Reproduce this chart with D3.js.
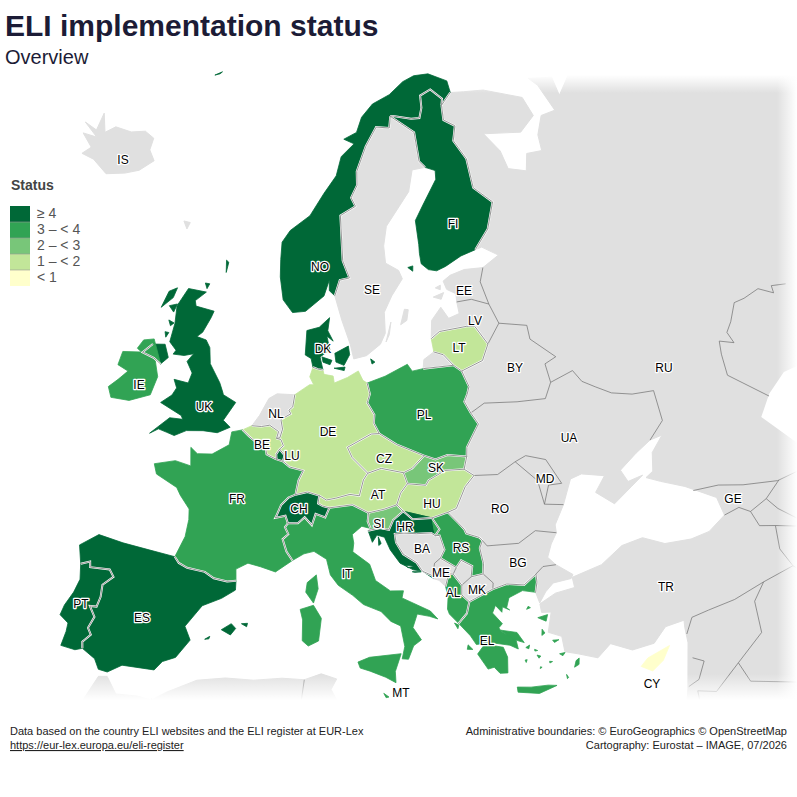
<!DOCTYPE html>
<html>
<head>
<meta charset="utf-8">
<script src="https://cdn.jsdelivr.net/npm/d3@7"></script>
<style>
html, body { margin: 0; padding: 0; background: #fff; }
svg { display: block; font-family: "Liberation Sans", Arial, sans-serif; }
</style>
</head>
<body>
<script>
// status per country
var codes = ["ES","PT","UK","DK","NO","FI","CH","HR","LU","IE","FR","IT","PL","RS","EL","AL","MT","SK","SI","DE","BE","CZ","AT","HU","LT","CY"];
var statusValues = [4,4,4,4,4,4,4,4,4,3,3,3,3,3,3,3,3,2,2,1,1,1,1,1,1,0];

var legendTitle = "Status";
var legendThresholds = [1,2,3,4];
var legendColors = ["#ffffcc","#c2e699","#78c679","#31a354","#006837"];
var legendLabels = ["\u2265 4","3 \u2013 < 4","2 \u2013 < 3","1 \u2013 < 2","< 1"];

var labelNames = ["IS","NO","SE","FI","EE","LV","LT","BY","RU","DK","IE","UK","NL","DE","PL","UA","BE","LU","CZ","SK","MD","FR","AT","HU","RO","CH","GE","SI","HR","RS","BA","BG","IT","ME","MK","AL","TR","PT","ES","EL","CY","MT"];
var labelX = [123,320,372,453,464,475,459,515,664,323,139,204,276,328,424,569,262,292,384,436,545,237,378,432,500,299,733,379,405,461,422,518,347,441,477,453,666,81,142,487,652,401];
var labelY = [160,267,290,224,291,321,348,368,368,349,385,407,414,432,415,438,445,456,459,468,479,499,495,504,509,509,499,524,527,548,549,563,574,573,590,593,587,604,618,641,684,693];

// shared land borders, lon/lat
var arcs = {
  PT_ES: [[-8.87,41.87],[-8.2,42.13],[-8.1,41.82],[-6.6,41.95],[-6.2,41.58],[-6.9,41.0],[-6.85,40.3],[-7.0,39.7],[-7.5,39.65],[-7.0,39.1],[-7.3,38.4],[-7.0,38.05],[-7.5,37.55],[-7.4,37.18]],
  ES_FR: [[-1.78,43.37],[-1.4,43.05],[-0.7,42.85],[0.7,42.75],[1.45,42.45],[2.5,42.35],[3.18,42.43]],
  FR_BE: [[2.55,51.08],[3.2,50.75],[4.2,50.3],[4.8,50.1],[4.9,49.8],[5.8,49.55]],
  FR_LU: [[5.8,49.55],[6.37,49.46]],
  FR_DE: [[6.37,49.46],[7.0,49.15],[8.2,48.97],[7.8,48.4],[7.58,47.58]],
  FR_CH: [[7.58,47.58],[7.0,47.4],[6.4,46.95],[6.1,46.4],[5.97,46.2],[6.8,46.35],[7.03,45.92]],
  FR_IT: [[7.03,45.92],[6.8,45.7],[7.1,45.3],[6.65,45.0],[7.0,44.3],[7.5,43.8]],
  BE_NL: [[3.37,51.37],[4.25,51.37],[5.0,51.48],[5.85,51.15],[5.7,50.75]],
  BE_DE: [[5.7,50.75],[6.1,50.7],[6.35,50.35],[6.03,50.15]],
  BE_LU: [[6.03,50.15],[5.75,49.85],[5.8,49.55]],
  LU_DE: [[6.03,50.15],[6.5,49.8],[6.37,49.46]],
  NL_DE: [[7.2,53.3],[7.05,52.6],[6.7,52.4],[6.9,52.2],[6.0,51.85],[6.2,51.3],[6.0,50.8],[5.7,50.75]],
  DE_DK: [[8.9,54.9],[9.4,54.8],[9.9,54.75]],
  DE_PL: [[14.2,53.93],[14.4,53.3],[14.1,52.8],[14.7,52.1],[14.6,51.6],[15.03,51.0]],
  DE_CZ: [[15.03,51.0],[14.3,51.0],[12.1,50.3],[12.5,49.7],[13.8,48.77]],
  DE_AT: [[13.8,48.77],[13.4,48.4],[13.0,47.5],[12.2,47.6],[11.0,47.4],[10.2,47.3],[9.6,47.55]],
  DE_CH: [[9.6,47.55],[8.6,47.75],[7.58,47.58]],
  CH_AT: [[9.6,47.55],[9.5,47.1],[9.9,46.95],[10.45,46.85]],
  CH_IT: [[10.45,46.85],[10.1,46.3],[9.3,46.5],[9.0,45.85],[8.4,46.3],[7.85,45.95],[7.03,45.92]],
  AT_CZ: [[13.8,48.77],[15.0,49.0],[16.9,48.65]],
  AT_SK: [[16.9,48.65],[17.15,48.0]],
  AT_HU: [[17.15,48.0],[16.5,47.5],[16.1,46.85]],
  AT_SI: [[16.1,46.85],[15.0,46.65],[13.7,46.5]],
  AT_IT: [[13.7,46.5],[12.4,47.0],[10.45,46.85]],
  CZ_PL: [[15.03,51.0],[16.5,50.3],[18.85,49.5]],
  CZ_SK: [[18.85,49.5],[17.7,48.85],[16.9,48.65]],
  PL_KA: [[19.8,54.44],[22.8,54.36]],
  PL_LT: [[22.8,54.36],[23.5,53.95]],
  PL_BY: [[23.5,53.95],[23.9,53.0],[23.6,52.6],[23.2,52.2],[23.6,51.5]],
  PL_UA: [[23.6,51.5],[24.1,50.8],[22.7,49.6],[22.55,49.09]],
  PL_SK: [[22.55,49.09],[20.9,49.35],[19.8,49.2],[18.85,49.5]],
  SK_UA: [[22.55,49.09],[22.15,48.4]],
  SK_HU: [[22.15,48.4],[20.5,48.5],[19.0,48.07],[18.7,47.8],[17.15,48.0]],
  HU_UA: [[22.15,48.4],[22.9,47.95]],
  HU_RO: [[22.9,47.95],[22.0,47.4],[21.0,46.25],[20.25,46.1]],
  HU_RS: [[20.25,46.1],[18.9,45.9]],
  HU_HR: [[18.9,45.9],[17.3,45.95],[16.6,46.45]],
  HU_SI: [[16.6,46.45],[16.1,46.85]],
  SI_HR: [[16.6,46.45],[15.7,46.0],[15.3,45.45],[14.6,45.6],[13.6,45.48]],
  SI_IT: [[13.8,45.6],[13.6,46.0],[13.7,46.5]],
  BA_HR: [[18.45,42.6],[17.7,42.92],[17.6,43.05],[17.3,43.45],[16.3,44.0],[15.8,44.7],[15.75,45.2],[16.5,45.2],[17.5,45.1],[18.7,45.05],[19.0,44.87]],
  HR_RS: [[19.0,44.87],[19.4,45.2],[18.9,45.9]],
  HR_ME: [[18.5,42.43],[18.45,42.6]],
  BA_RS: [[19.0,44.87],[19.35,44.85],[19.6,44.0],[19.2,43.55]],
  BA_ME: [[19.2,43.55],[18.7,43.3],[18.45,42.6]],
  ME_RS: [[19.2,43.55],[20.35,42.9]],
  ME_XK: [[20.35,42.9],[20.05,42.55]],
  ME_AL: [[20.05,42.55],[19.7,42.6],[19.35,41.9]],
  XK_RS: [[20.35,42.9],[20.8,43.27],[21.6,42.85],[21.4,42.25]],
  XK_MK: [[21.4,42.25],[20.6,41.85]],
  XK_AL: [[20.6,41.85],[20.05,42.55]],
  RS_RO: [[20.25,46.1],[21.0,45.4],[21.4,45.0],[21.5,44.75],[22.5,44.4],[22.7,44.2]],
  RS_BG: [[22.7,44.2],[22.4,43.8],[22.5,42.9],[22.35,42.3]],
  RS_MK: [[22.35,42.3],[21.4,42.25]],
  MK_BG: [[22.35,42.3],[23.0,41.7],[22.9,41.35]],
  MK_EL: [[22.9,41.35],[21.0,40.85]],
  MK_AL: [[21.0,40.85],[20.5,41.3],[20.6,41.85]],
  AL_EL: [[20.0,39.7],[20.7,40.2],[21.0,40.85]],
  EL_BG: [[22.9,41.35],[24.0,41.5],[25.3,41.25],[26.35,41.72]],
  EL_TR: [[26.35,41.72],[26.3,41.25],[26.05,40.7]],
  BG_RO: [[22.7,44.2],[23.0,43.85],[25.5,43.65],[27.0,44.15],[28.6,43.75]],
  BG_TR: [[28.0,41.98],[27.0,42.05],[26.35,41.72]],
  RO_UA: [[22.9,47.95],[24.9,47.75],[26.6,48.25]],
  RO_MD: [[26.6,48.25],[28.1,46.9],[28.2,45.5]],
  RO_UB: [[28.2,45.5],[29.7,45.2]],
  MD_UA: [[26.6,48.25],[27.6,48.45],[29.2,47.95],[30.0,46.4],[28.9,46.5],[28.2,45.5]],
  UA_BY: [[23.6,51.5],[25.0,51.9],[28.0,51.55],[30.6,51.3],[31.5,52.1]],
  UA_RU: [[31.5,52.1],[33.8,52.35],[34.3,51.6],[35.3,51.05],[36.5,50.4],[38.2,49.9],[40.1,49.6],[39.8,47.85],[38.2,47.1]],
  BY_LT: [[23.5,53.95],[25.7,54.3],[26.6,55.15]],
  BY_LV: [[26.6,55.15],[28.2,56.15]],
  BY_RU: [[28.2,56.15],[30.9,55.6],[30.8,54.8],[32.7,53.4],[31.5,53.2],[31.5,52.1]],
  LT_LV: [[26.6,55.15],[25.7,56.3],[24.9,56.4],[22.0,56.4],[21.05,56.07]],
  LT_KA: [[21.1,55.3],[22.0,55.05],[22.8,54.36]],
  LV_RU: [[28.2,56.15],[27.7,57.35]],
  LV_EE: [[27.7,57.35],[26.0,57.85],[24.4,57.88]],
  EE_RU: [[27.7,57.35],[27.4,58.7],[28.1,59.45]],
  RU_FI: [[27.8,60.55],[29.9,61.5],[31.5,62.9],[29.7,64.0],[30.0,65.7],[29.0,66.9],[29.9,67.7],[28.5,68.2],[28.9,69.05]],
  RU_NO: [[28.9,69.05],[30.9,69.6]],
  FI_NO: [[20.55,69.06],[21.0,69.05],[23.7,68.7],[25.0,68.65],[25.7,69.2],[26.0,69.9],[27.9,70.1],[29.3,69.4],[28.9,69.05]],
  FI_SE: [[24.15,65.8],[23.5,66.2],[23.7,67.9],[20.55,69.06]],
  SE_NO: [[20.55,69.06],[20.1,68.4],[18.1,68.55],[16.2,67.5],[14.6,66.1],[14.5,65.3],[13.6,64.6],[14.1,64.1],[12.1,63.6],[12.2,61.0],[12.9,60.0],[11.8,59.9],[11.2,59.0]],
  IE_UK: [[-6.1,54.05],[-6.9,54.3],[-8.1,54.45],[-7.3,55.05]]
};

// thin borders inside the grey land to the east and south
var extraBorders = [
  [[55.4,51],[54.2,51.4],[54,51],[53,51.7],[51.4,51.7],[50.4,51.8],[49.2,51],[48.4,50.6],[48.5,49.9],[47.4,50.4],[47,49.7],[46.6,48.5],[48.9,46.3]],
  [[40,43.5],[42,43.2],[43.8,42.6],[46.4,41.9],[48.5,41.8]],
  [[41.55,41.5],[42.8,41.55],[43.5,41.05],[45,41.3],[46.5,41.9]],
  [[43.5,41.05],[43.7,40.1],[44.8,39.7],[44.4,38.4],[44.8,37.2],[42.4,37.1],[40,36.85],[38,36.85],[36.7,36.8],[36.0,36.0]],
  [[45,41.3],[45.5,40.5],[46.5,39.5]],
  [[44.8,39.7],[46.5,39.0],[48,39.6]],
  [[42.4,37.1],[41.3,36.3],[41.0,34.5],[38.8,33.4],[36.8,32.3],[35.6,32.7],[35.5,31.5]],
  [[38.8,33.4],[39.2,32.15],[42,31.1],[44.7,29.2]],
  [[44.8,37.2],[46,35.8],[46,33]],
  [[35.9,34.6],[36.6,34.2],[35.9,33.3],[35.1,33.1]],
  [[-2,35.1],[-1.7,33.5],[-1,32.5]],
  [[8.6,36.95],[8.3,35.0],[7.5,33.5]],
  [[11.5,33.2],[10,30]]
];

function rev(a){ return a.slice().reverse(); }
function ring(){ return [].concat.apply([], arguments); }
var a = arcs;

var countries = {
  PT: [ring(a.PT_ES,[[-7.9,37.0],[-8.95,37.05],[-8.8,37.9],[-8.8,38.4],[-9.5,38.75],[-9.35,39.35],[-8.9,40.2],[-8.65,41.0]])],
  ES: [ring([[-8.87,41.87],[-9.3,42.9],[-8.0,43.75],[-6.0,43.6],[-3.8,43.5]],a.ES_FR,[[3.2,41.9],[2.2,41.35],[0.8,40.8],[-0.3,39.5],[0.2,38.75],[-0.7,37.65],[-1.6,37.3],[-2.1,36.75],[-4.4,36.7],[-5.35,36.15],[-6.0,36.2],[-6.4,36.75]],rev(a.PT_ES)),
    [[2.4,39.55],[3.1,39.95],[3.45,39.7],[3.1,39.3]],[[3.85,40.0],[4.3,40.05],[4.25,39.85]],[[1.25,38.9],[1.6,39.1],[1.55,38.95]]],
  FR: [ring(rev(a.ES_FR),[[-1.2,44.6],[-1.1,45.6],[-1.2,46.2],[-2.1,46.9],[-2.5,47.3],[-4.4,47.85],[-4.75,48.4],[-3.0,48.8],[-1.6,48.65],[-1.85,49.7],[-1.2,49.4],[0.1,49.5],[1.5,50.15],[1.6,50.9]],a.FR_BE,a.FR_LU,a.FR_DE,a.FR_CH,a.FR_IT,[[6.2,43.1],[5.0,43.35],[4.0,43.5],[3.1,43.1]]),
    [[9.4,43.0],[9.55,42.2],[9.2,41.38],[8.6,42.0],[8.7,42.55]]],
  BE: [ring([[2.55,51.08]],a.BE_NL,a.BE_DE,a.BE_LU,rev(a.FR_BE))],
  LU: [ring(rev(a.BE_LU),a.LU_DE,rev(a.FR_LU))],
  NL: [ring([[3.37,51.37],[4.0,52.0],[4.75,53.0],[5.5,53.3]],a.NL_DE,rev(a.BE_NL))],
  DE: [ring([[7.2,53.3],[8.0,53.65],[8.6,53.9],[9.0,53.9],[8.6,54.35]],a.DE_DK,[[10.0,54.5],[10.9,54.4],[11.0,54.0],[12.3,54.3],[13.4,54.65],[13.8,54.1]],a.DE_PL,a.DE_CZ,a.DE_AT,a.DE_CH,rev(a.FR_DE),rev(a.LU_DE),rev(a.BE_DE),rev(a.NL_DE))],
  CH: [ring(rev(a.FR_CH),rev(a.DE_CH),a.CH_AT,a.CH_IT)],
  AT: [ring(rev(a.DE_AT),a.AT_CZ,a.AT_SK,a.AT_HU,a.AT_SI,a.AT_IT,rev(a.CH_AT))],
  CZ: [ring(rev(a.DE_CZ),a.CZ_PL,a.CZ_SK,rev(a.AT_CZ))],
  PL: [ring([[14.2,53.93],[16.0,54.25],[18.3,54.8],[18.7,54.38]],a.PL_KA,a.PL_LT,a.PL_BY,a.PL_UA,a.PL_SK,rev(a.CZ_PL),rev(a.DE_PL))],
  SK: [ring(rev(a.CZ_SK),rev(a.PL_SK),a.SK_UA,a.SK_HU,rev(a.AT_SK))],
  HU: [ring(rev(a.SK_HU),a.HU_UA,a.HU_RO,a.HU_RS,a.HU_HR,a.HU_SI,rev(a.AT_HU))],
  SI: [ring(rev(a.AT_SI),rev(a.HU_SI),a.SI_HR,a.SI_IT)],
  IT: [ring(rev(a.FR_IT),rev(a.CH_IT),rev(a.AT_IT),rev(a.SI_IT),[[13.1,45.75],[12.3,45.3],[12.4,44.8],[12.3,44.3],[13.6,43.55],[14.0,42.6],[15.1,41.95],[16.1,41.9],[15.95,41.5],[18.0,40.6],[18.5,40.1],[17.9,40.3],[17.0,40.5],[16.6,39.75],[17.15,39.0],[16.55,38.7],[16.1,37.95],[15.65,38.0],[15.9,38.7],[15.7,39.9],[15.0,40.2],[14.3,40.8],[13.0,41.25],[12.2,41.8],[11.1,42.4],[10.5,43.0],[10.2,43.9],[9.2,44.35],[8.4,44.2]]),
    [[12.45,37.95],[13.3,38.2],[15.6,38.3],[15.1,37.3],[15.1,36.65],[14.4,37.0],[13.3,37.4],[12.6,37.6]],
    [[8.2,41.0],[9.2,41.25],[9.8,40.5],[9.6,39.2],[8.85,38.9],[8.4,39.2],[8.4,40.4]]],
  MT: [[[14.2,36.08],[14.55,35.85],[14.35,35.82]]],
  HR: [ring([[13.6,45.48],[13.9,44.8],[14.3,45.2],[14.9,45.05],[15.3,44.3],[16.0,43.5],[17.0,43.05],[17.7,42.92]],[[18.5,42.43]],a.HR_ME,a.BA_HR,a.HR_RS,rev(a.HU_HR),a.SI_HR),
    [[14.4,45.1],[14.6,44.7],[14.4,44.6]],[[16.4,43.35],[17.1,43.25],[16.6,43.2]],[[16.9,42.95],[17.6,42.9],[17.1,42.9]]],
  BA: [ring(a.BA_HR,a.BA_RS,a.BA_ME)],
  ME: [ring(rev(a.BA_ME),a.ME_RS,a.ME_XK,a.ME_AL,[[18.9,42.3]],a.HR_ME)],
  XK: [ring(rev(a.ME_XK),a.XK_RS,a.XK_MK,a.XK_AL)],
  RS: [ring(rev(a.HU_RS),a.RS_RO,a.RS_BG,a.RS_MK,rev(a.XK_RS),rev(a.ME_RS),rev(a.BA_RS),rev(a.HR_RS))],
  MK: [ring(rev(a.XK_MK),rev(a.RS_MK),a.MK_BG,a.MK_EL,a.MK_AL)],
  AL: [ring([[19.35,41.9],[19.45,41.3],[19.3,40.6],[19.4,40.3]],a.AL_EL,a.MK_AL,a.XK_AL,a.ME_AL)],
  EL: [ring(a.AL_EL,rev(a.MK_EL),a.EL_BG,a.EL_TR,[[25.1,40.95],[24.0,40.7],[23.7,40.15],[23.9,40.0],[23.4,40.25],[23.3,39.95],[22.9,40.4],[22.6,40.0],[23.2,39.3],[22.9,39.1],[23.0,38.9],[24.0,38.2],[24.05,37.7],[23.5,38.0],[22.5,38.25],[21.7,38.35],[21.1,38.35],[20.75,38.9]]),
    [[21.7,38.3],[23.0,37.95],[23.2,37.35],[23.05,36.45],[22.5,36.5],[22.15,36.9],[21.7,36.85],[21.1,37.8]],
    [[23.0,38.95],[24.15,38.65],[24.55,38.0],[23.8,38.3]],
    [[23.55,35.55],[24.5,35.4],[25.7,35.32],[26.3,35.2],[25.0,34.95],[23.55,35.25]],
    [[28.2,36.45],[27.95,36.35],[27.75,36.0],[28.1,36.1]],
    [[25.85,39.25],[26.6,39.3],[26.4,38.95]],[[26.0,38.55],[26.15,38.3],[25.9,38.2]],[[26.6,37.8],[27.05,37.75],[26.7,37.65]],[[19.7,39.75],[20.0,39.6],[19.9,39.4]],[[20.5,38.4],[20.8,38.1],[20.4,38.15]],
    [[25.3,40.0],[25.45,39.9],[25.15,39.85]],[[24.6,37.7],[24.9,37.8],[24.8,37.6]],[[25.3,37.15],[25.55,37.05],[25.4,36.95]],[[25.2,37.5],[25.4,37.4],[25.2,37.4]],[[24.4,37.0],[24.55,37.0],[24.45,36.85]],[[26.9,36.95],[27.3,36.95],[27.1,36.8]],[[27.1,35.7],[27.2,35.5],[27.1,35.45]],[[25.4,36.45],[25.5,36.4],[25.35,36.35]],[[26.1,36.65],[26.3,36.6],[26.1,36.55]]],
  BG: [ring(rev(a.RS_BG),a.BG_RO,[[28.0,43.2],[27.5,42.5]],a.BG_TR,rev(a.EL_BG),rev(a.MK_BG))],
  RO: [ring(rev(a.HU_RO),a.RO_UA,a.RO_MD,a.RO_UB,[[28.65,44.2]],rev(a.BG_RO),rev(a.RS_RO))],
  MD: [ring(rev(a.RO_MD),a.MD_UA)],
  UA: [ring(rev(a.SK_UA),rev(a.PL_UA),a.UA_BY,a.UA_RU,[[36.7,46.7],[35.0,46.1],[35.3,45.35],[36.6,45.4],[35.4,45.0],[33.7,44.4],[32.5,45.35],[33.6,46.1],[31.8,46.6],[30.8,46.5]],rev(a.RO_UB),rev(a.MD_UA),rev(a.RO_UA),rev(a.HU_UA))],
  BY: [ring(a.BY_LT,a.BY_LV,a.BY_RU,rev(a.UA_BY),rev(a.PL_BY))],
  LT: [ring(a.PL_LT,a.BY_LT,a.LT_LV,a.LT_KA)],
  KA: [ring(a.PL_KA,rev(a.LT_KA),[[20.0,54.95]])],
  LV: [ring(rev(a.LT_LV),a.BY_LV,a.LV_RU,a.LV_EE,[[24.4,57.2],[23.2,57.05],[22.6,57.75],[21.4,57.1]])],
  EE: [ring(rev(a.LV_EE),a.EE_RU,[[26.0,59.6],[24.3,59.45],[23.4,59.2],[23.6,58.7],[24.5,58.35]]),
    [[22.0,58.4],[23.2,58.55],[22.8,58.2]],[[22.4,58.9],[23.0,59.0],[22.9,58.75]]],
  RU: [ring([[28.1,59.45],[30.2,59.9],[28.6,60.6]],a.RU_FI,a.RU_NO,[[33.0,69.4],[36.0,69.1],[41.0,67.8],[41.2,66.6],[38.5,66.05],[33.5,66.75],[34.8,65.5],[34.9,64.4],[37.0,63.9],[38.0,64.8],[40.0,64.6],[40.5,65.5],[42.2,66.4],[44.3,66.3],[44.0,68.0],[43.3,68.6],[46.5,68.0],[46,66.9],[53,68.5],[60,69],[70,73],[90,76],[100,40],[70,15],[32,20],[32,31],[34.3,31.3],[35.0,33.0],[35.9,35.5],[36.0,36.4],[36.1,36.8],[34.7,36.8],[33.6,36.1],[32.0,36.1],[30.6,36.8],[29.5,36.2],[28.2,36.7],[27.3,37.0],[27.3,37.9],[26.4,38.3],[26.9,39.4],[26.2,39.5],[26.2,40.0],[27.5,40.4],[29.0,40.45],[29.0,41.05],[31.4,41.3],[33.3,42.0],[35.0,42.05],[36.5,41.3],[38.5,41.0],[40.0,41.0],[41.55,41.5],[41.5,42.6],[39.5,43.9],[37.8,44.7],[36.8,45.2],[37.5,45.4],[38.0,46.4],[39.3,47.1]],rev(a.UA_RU),rev(a.BY_RU),a.LV_RU,a.EE_RU)],
  TR: [ring(a.BG_TR,a.EL_TR,[[26.2,40.05],[26.8,40.6],[27.5,41.0],[28.9,41.0],[29.1,41.2]])],
  NF: [[[-5.9,35.8],[-5.3,35.9],[-4.5,35.0],[-3.0,35.1],[-2.0,35.0],[-1.0,35.6],[1.0,36.5],[3.0,36.8],[5.0,36.8],[7.0,37.0],[8.6,36.95],[9.8,37.3],[10.9,37.0],[10.5,36.4],[11.0,35.6],[10.1,34.3],[11.0,33.2],[15.0,32.4],[19.0,30.3],[20.0,32.0],[23,32.6],[25,31.6],[32,31],[32,20],[-10,20],[-10,30],[-6.8,34.0]]],
  NO: [ring([[10.6,59.3],[10.6,59.9],[10.0,59.0],[8.0,58.1],[6.6,58.0],[5.5,58.7],[5.0,60.0],[4.9,61.0],[4.9,62.0],[5.8,62.7],[8.2,63.6],[10.0,64.9],[11.7,65.9],[12.5,67.0],[14.5,67.7],[13.0,68.0],[15.0,68.35],[16.0,69.2],[18.0,69.9],[21.0,70.3],[23.7,70.9],[25.8,71.1],[28.3,71.0],[31.0,70.3],[30.9,69.6]],rev(a.RU_NO),rev(a.FI_NO),a.SE_NO),
    [[-9.1,70.85],[-8.0,71.15],[-8.3,71.0]]],
  SE: [ring(rev(a.SE_NO),rev(a.FI_SE),[[22.3,65.8],[21.3,64.6],[17.8,62.8],[17.2,61.7],[17.2,60.7],[18.6,60.2],[18.9,59.7],[17.5,58.8],[16.5,57.9],[16.4,56.7],[15.8,56.1],[14.3,55.5],[13.0,55.35],[12.7,56.2],[11.9,57.6]]),
    [[18.1,57.1],[18.7,57.95],[19.1,57.9],[18.8,57.3]],[[16.4,56.2],[17.1,57.3],[16.8,56.6]]],
  FI: [ring(rev(a.FI_NO),rev(a.RU_FI),[[26.0,60.4],[24.0,60.0],[22.9,59.85],[22.0,60.0],[21.3,60.4],[21.3,61.0],[21.4,61.5],[21.5,62.9],[22.8,63.7],[25.2,65.0],[25.4,65.5]],a.FI_SE),
    [[19.7,60.3],[20.3,60.35],[20.2,60.05]]],
  DK: [ring(a.DE_DK,[[9.6,55.5],[10.6,55.9],[10.3,56.7],[10.95,56.4],[10.4,57.0],[10.6,57.75],[9.5,57.2],[8.2,57.0],[8.1,55.6],[8.7,55.4]]),
    [[11.1,55.7],[12.5,56.1],[12.6,55.6],[12.0,55.0],[11.2,55.2]],[[9.8,55.5],[10.8,55.3],[10.6,55.05],[9.9,55.2]],[[11.0,54.85],[12.0,54.7],[12.1,54.9]],[[14.7,55.3],[15.1,55.1],[14.8,55.0]]],
  UK: [[[-5.7,50.05],[-5.0,50.4],[-4.2,50.3],[-3.5,50.2],[-2.5,50.6],[-1.0,50.75],[0.3,50.75],[1.4,51.15],[0.7,51.5],[1.65,52.6],[0.4,52.95],[0.3,53.1],[-0.1,53.6],[-1.3,54.6],[-1.6,55.5],[-2.1,55.9],[-3.1,56.0],[-2.6,56.3],[-2.0,57.2],[-1.8,57.6],[-3.8,57.7],[-4.0,58.0],[-3.0,58.6],[-5.0,58.6],[-5.8,57.5],[-5.6,56.5],[-5.7,55.4],[-4.9,55.0],[-5.1,54.75],[-4.0,54.8],[-3.1,55.0],[-3.6,54.5],[-2.9,53.9],[-3.1,53.3],[-4.5,53.35],[-4.1,52.9],[-4.4,52.45],[-5.3,51.9],[-3.2,51.4],[-3.0,51.2],[-4.2,51.15]],
    ring(a.IE_UK,[[-6.1,55.2],[-5.5,54.5]]),
    [[-7.0,58.2],[-6.2,58.5],[-6.4,57.9],[-7.4,57.2]],[[-6.6,57.4],[-5.8,57.6],[-6.0,57.1]],[[-6.3,56.6],[-5.7,56.5],[-6.0,56.3]],[[-6.4,55.9],[-6.0,55.9],[-6.2,55.6]],[[-3.3,59.1],[-2.8,59.1],[-3.0,58.8]],[[-1.4,60.6],[-1.1,60.5],[-1.2,59.9]]],
  IE: [ring(rev(a.IE_UK),[[-7.3,55.35],[-8.3,55.15],[-8.7,54.6],[-8.2,54.45],[-10.0,54.2],[-10.1,53.4],[-9.0,53.2],[-9.7,52.6],[-10.4,52.05],[-9.9,51.5],[-8.2,51.6],[-6.4,52.2],[-6.1,53.3]])],
  IS: [[[-24.4,65.5],[-22.5,65.4],[-22.7,66.45],[-21.3,65.5],[-20.3,66.05],[-18.0,66.15],[-16.2,66.5],[-14.7,66.3],[-14.6,65.6],[-13.5,65.1],[-14.9,64.3],[-16.5,63.85],[-18.7,63.4],[-21.0,63.85],[-22.7,63.85],[-22.0,64.4],[-23.9,64.9],[-22.0,65.05]]],
  FO: [[[-7.4,62.3],[-6.6,62.3],[-6.8,61.9]]],
  CY: [[[32.3,35.05],[32.9,35.4],[34.6,35.7],[33.9,35.0],[33.0,34.6]]]
};

var caspian = [[47.5,45.5],[49,46.4],[51,47],[53,46.8],[53,45],[50.5,44.5],[51,43.2],[50,40],[49,38],[53,37],[54,42],[47,42]].slice(0,10);

var width = 797, height = 797;

var projection = d3.geoAzimuthalEqualArea()
  .rotate([-10,-52])
  .scale(1000)
  .translate([324,418]);

// plain line through the projection, so ring winding does not matter
var line = d3.line().x(function(d){ return projection(d)[0]; }).y(function(d){ return projection(d)[1]; });
function closed(rings){ return rings.map(function(r){ return line(r) + "Z"; }).join(""); }

var color = d3.scaleThreshold().domain(legendThresholds).range(legendColors);
var statusOf = {};
codes.forEach(function(c,i){ statusOf[c] = statusValues[i]; });

var svg = d3.select("body").append("svg").attr("width",width).attr("height",height);
var defs = svg.append("defs");

function fade(id,x1,y1,x2,y2){
  var g = defs.append("linearGradient").attr("id",id).attr("x1",x1).attr("y1",y1).attr("x2",x2).attr("y2",y2);
  g.append("stop").attr("offset","0%").attr("stop-color","#fff").attr("stop-opacity",0);
  g.append("stop").attr("offset","100%").attr("stop-color","#fff").attr("stop-opacity",1);
}
fade("fadeRight",0,0,1,0);
fade("fadeBottom",0,0,0,1);
fade("fadeTop",0,1,0,0);

var names = Object.keys(countries);
var greyNames = names.filter(function(n){ return statusOf[n] === undefined; });
var colourNames = names.filter(function(n){ return statusOf[n] !== undefined; });

svg.append("g").selectAll("path").data(greyNames).enter().append("path")
  .attr("d",function(n){ return closed(countries[n]); })
  .attr("fill","#e0e0e0").attr("stroke","#e0e0e0").attr("stroke-width",1).attr("stroke-linejoin","round");

svg.append("path").attr("d",line(caspian)+"Z").attr("fill","#fff");

var arcNames = Object.keys(arcs);
svg.append("g").selectAll("path").data(arcNames.map(function(k){ return arcs[k]; }).concat(extraBorders)).enter().append("path")
  .attr("d",line).attr("fill","none").attr("stroke","#6e6e6e").attr("stroke-width",0.7);

// edge of the map frame fades out over the grey land
svg.append("rect").attr("x",0).attr("y",0).attr("width",width).attr("height",75).attr("fill","#fff");
svg.append("rect").attr("x",0).attr("y",75).attr("width",width).attr("height",18).attr("fill","url(#fadeTop)");
svg.append("rect").attr("x",777).attr("y",0).attr("width",20).attr("height",height).attr("fill","url(#fadeRight)");
svg.append("rect").attr("x",0).attr("y",674).attr("width",width).attr("height",26).attr("fill","url(#fadeBottom)");
svg.append("rect").attr("x",0).attr("y",700).attr("width",width).attr("height",97).attr("fill","#fff");

svg.append("g").selectAll("path").data(colourNames).enter().append("path")
  .attr("d",function(n){ return closed(countries[n]); })
  .attr("fill",function(n){ return color(statusOf[n]); })
  .attr("stroke",function(n){ return color(statusOf[n]); })
  .attr("stroke-width",0.8).attr("stroke-linejoin","round");

// borders of the reporting countries get a white casing
var caseArcs = arcNames.filter(function(k){
  return k.split("_").some(function(c){ return statusOf[c] !== undefined; });
}).map(function(k){ return arcs[k]; });

svg.append("g").selectAll("path").data(caseArcs).enter().append("path")
  .attr("d",line).attr("fill","none").attr("stroke","#fff").attr("stroke-width",2);
svg.append("g").selectAll("path").data(caseArcs).enter().append("path")
  .attr("d",line).attr("fill","none").attr("stroke","#8a8a8a").attr("stroke-width",0.9);

// country labels
svg.append("g").selectAll("text").data(labelNames).enter().append("text")
  .attr("x",function(d,i){ return labelX[i]; })
  .attr("y",function(d,i){ return labelY[i]; })
  .attr("text-anchor","middle").attr("dominant-baseline","central")
  .attr("font-size",12).attr("fill","#000")
  .attr("stroke","#fff").attr("stroke-width",2.5).attr("stroke-linejoin","round").attr("paint-order","stroke")
  .text(function(d){ return d; });

// titles
svg.append("text").attr("x",5).attr("y",36).attr("font-size",30).attr("font-weight","bold").attr("fill","#1c1c36").text("ELI implementation status");
svg.append("text").attr("x",5).attr("y",64).attr("font-size",20).attr("fill","#1c1c36").text("Overview");

// legend
var legend = svg.append("g");
legend.append("text").attr("x",11).attr("y",190).attr("font-size",14).attr("font-weight","bold").attr("fill","#444").text(legendTitle);
var legendOrder = legendColors.slice().reverse();
legend.selectAll("rect").data(legendOrder).enter().append("rect")
  .attr("x",10).attr("y",function(d,i){ return 206+i*16; }).attr("width",20).attr("height",16)
  .attr("fill",function(d){ return d; });
legend.selectAll("line").data(legendOrder.slice(1)).enter().append("line")
  .attr("x1",10).attr("x2",30).attr("y1",function(d,i){ return 222+i*16; }).attr("y2",function(d,i){ return 222+i*16; })
  .attr("stroke","#999").attr("stroke-width",0.6);
legend.selectAll("text.item").data(legendLabels).enter().append("text")
  .attr("class","item").attr("x",37).attr("y",function(d,i){ return 218+i*16; })
  .attr("font-size",14).attr("fill","#555").text(function(d){ return d; });

// footer
svg.append("text").attr("x",10).attr("y",735).attr("font-size",11).attr("fill","#222").text("Data based on the country ELI websites and the ELI register at EUR-Lex");
svg.append("text").attr("x",10).attr("y",749).attr("font-size",11).attr("fill","#222").attr("text-decoration","underline").text("https://eur-lex.europa.eu/eli-register");
svg.append("text").attr("x",787).attr("y",735).attr("text-anchor","end").attr("font-size",11).attr("fill","#222").text("Administrative boundaries: \u00a9 EuroGeographics \u00a9 OpenStreetMap");
svg.append("text").attr("x",787).attr("y",749).attr("text-anchor","end").attr("font-size",11).attr("fill","#222").text("Cartography: Eurostat \u2013 IMAGE, 07/2026");
</script>
</body>
</html>
